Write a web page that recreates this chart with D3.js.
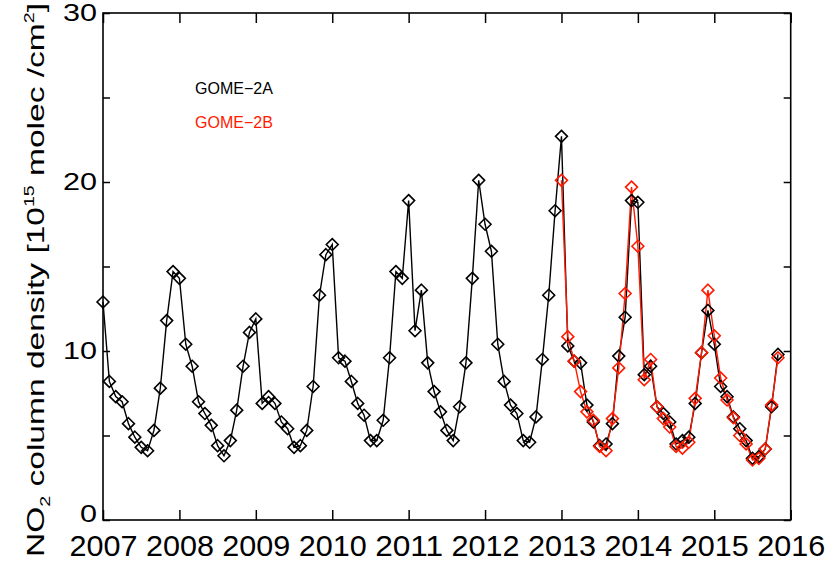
<!DOCTYPE html>
<html>
<head>
<meta charset="utf-8">
<script src="https://cdn.jsdelivr.net/npm/d3@7"></script>
<style>
body { margin:0; background:#fff; }
svg text { font-family: "Liberation Sans", Arial, sans-serif; fill:#000; }
.frame { fill:none; stroke:#000; stroke-width:1.6; }
.tick line { stroke:#000; stroke-width:1.5; }
.domain { display:none; }
.no2-line { fill:none; stroke-width:1.4; }
.no2-dot { fill:none; stroke-width:1.6; }
</style>
</head>
<body>
<div class="no2-wrapper"></div>
<script>
const width = 827
const height = 563
const margin = {left:103, top:13, right:36.3, bottom:43}

// monthly means, first value is January of the start year
const gome2aStart = 2007
const gome2a = [
	12.9, 8.2, 7.3, 7.0, 5.7, 4.9, 4.3, 4.1, 5.3, 7.8, 11.8, 14.7,
	14.3, 10.4, 9.1, 7.0, 6.3, 5.6, 4.4, 3.8, 4.7, 6.5, 9.1, 11.1,
	11.9, 6.9, 7.3, 6.9, 5.8, 5.4, 4.3, 4.4, 5.3, 7.9, 13.3, 15.7,
	16.3, 9.6, 9.4, 8.2, 6.9, 6.2, 4.7, 4.7, 5.9, 9.6, 14.7, 14.3,
	18.9, 11.2, 13.6, 9.3, 7.6, 6.4, 5.3, 4.7, 6.7, 9.3, 14.3, 20.1,
	17.5, 15.9, 10.4, 8.2, 6.8, 6.3, 4.7, 4.6, 6.1, 9.5, 13.3, 18.3,
	22.7, 10.3, 9.4, 9.3, 6.8, 5.8, 4.4, 4.5, 5.7, 9.7, 12.0, 18.9,
	18.8, 8.6, 9.1, 6.7, 6.3, 5.8, 4.5, 4.7, 4.9, 6.9, 9.9, 12.4,
	10.4, 7.9, 7.3, 6.1, 5.4, 4.7, 3.65, 3.75, 4.2, 6.7, 9.8
]

const gome2bStart = 2013
const gome2b = [
	20.1, 10.85, 9.4, 7.6, 6.4, 5.9, 4.35, 4.1, 6.0, 9.0, 13.4, 19.7,
	16.2, 8.3, 9.5, 6.7, 6.0, 5.5, 4.35, 4.25, 4.6, 7.2, 9.9, 13.6,
	10.9, 8.4, 7.1, 6.05, 5.0, 4.5, 3.55, 3.65, 4.2, 6.8, 9.6
]

const yearTicks = [2007, 2008, 2009, 2010, 2011, 2012, 2013, 2014, 2015, 2016]
const yTicks = [0, 5, 10, 15, 20, 25, 30]
const yLabels = [0, 10, 20, 30]

const series = [
	{name:'GOME\u22122A', start:gome2aStart, values:gome2a, colour:'#000'},
	{name:'GOME\u22122B', start:gome2bStart, values:gome2b, colour:'#ff1a00'}
]

const svg = d3.select('.no2-wrapper')
.append('svg')
.attr('width', width)
.attr('height', height)

const xScale = d3.scaleLinear()
.domain([2007, 2016])
.range([margin.left, width - margin.right])

const yScale = d3.scaleLinear()
.domain([0, 30])
.range([height - margin.bottom, margin.top])

const axis = svg.append('g')

axis.append('g')
.attr('transform', `translate(0,${height - margin.bottom})`)
.call(d3.axisBottom(xScale).tickValues(yearTicks).tickSizeInner(-10).tickSizeOuter(0).tickPadding(15).tickFormat(d3.format('d')))
.selectAll('text')
.attr('font-size', 30)
.attr('textLength', 68)
.attr('lengthAdjust', 'spacingAndGlyphs')

axis.append('g')
.attr('transform', `translate(0,${margin.top})`)
.call(d3.axisTop(xScale).tickValues(yearTicks).tickSizeInner(-10).tickSizeOuter(0).tickFormat(''))

axis.append('g')
.attr('transform', `translate(${margin.left},0)`)
.call(d3.axisLeft(yScale).tickValues(yTicks).tickSizeInner(-7).tickSizeOuter(0).tickPadding(6)
	.tickFormat(d => yLabels.includes(d) ? d : ''))
.selectAll('text')
.attr('font-size', 24)
.attr('dy', d => d === 0 ? '0.05em' : '0.32em')
.filter(d => yLabels.includes(d))
.attr('textLength', d => String(d).length * 17)
.attr('lengthAdjust', 'spacingAndGlyphs')

axis.append('g')
.attr('transform', `translate(${width - margin.right},0)`)
.call(d3.axisRight(yScale).tickValues(yTicks).tickSizeInner(-7).tickSizeOuter(0).tickFormat(''))

svg.append('rect')
.attr('class', 'frame')
.attr('x', margin.left)
.attr('y', margin.top)
.attr('width', width - margin.left - margin.right)
.attr('height', height - margin.top - margin.bottom)

// y title, stretched like the original IDL output
const ytitle = svg.append('text')
.attr('transform', `translate(44,${(3 + 557) / 2}) rotate(-90)`)
.attr('text-anchor', 'middle')
.attr('font-size', 24)
.attr('textLength', 554)
.attr('lengthAdjust', 'spacingAndGlyphs')

ytitle.append('tspan').text('NO')
ytitle.append('tspan').attr('font-size', 14).attr('dy', 6).text('2')
ytitle.append('tspan').attr('dy', -6).text(' column density [10')
ytitle.append('tspan').attr('font-size', 14).attr('dy', -10).text('15')
ytitle.append('tspan').attr('dy', 10).text(' molec /cm')
ytitle.append('tspan').attr('font-size', 14).attr('dy', -10).text('2')
ytitle.append('tspan').attr('dy', 10).text(']')

const line = d3.line()
.curve(d3.curveLinear)

const diamond = d3.symbol().type(d3.symbolDiamond2).size(90)

const lines = svg.append('g')
const dots = svg.append('g')

series.forEach(s => {

	const points = s.values.map((v, i) => ({date:s.start + i / 12, value:v}))

	line.x(d => xScale(d.date)).y(d => yScale(d.value))

	lines.append('path')
	.attr('class', 'no2-line')
	.attr('stroke', s.colour)
	.attr('d', line(points))

	dots.selectAll(null)
	.data(points)
	.enter()
	.append('path')
	.attr('class', 'no2-dot')
	.attr('stroke', s.colour)
	.attr('transform', d => `translate(${xScale(d.date)},${yScale(d.value)})`)
	.attr('d', diamond)

})

const legend = svg.append('g')

legend.selectAll(null)
.data(series)
.enter()
.append('text')
.attr('x', 195)
.attr('y', (d, i) => 94 + i * 34)
.attr('font-size', 16)
.attr('textLength', 78)
.attr('lengthAdjust', 'spacingAndGlyphs')
.style('fill', d => d.colour)
.text(d => d.name)

</script>
</body>
</html>
